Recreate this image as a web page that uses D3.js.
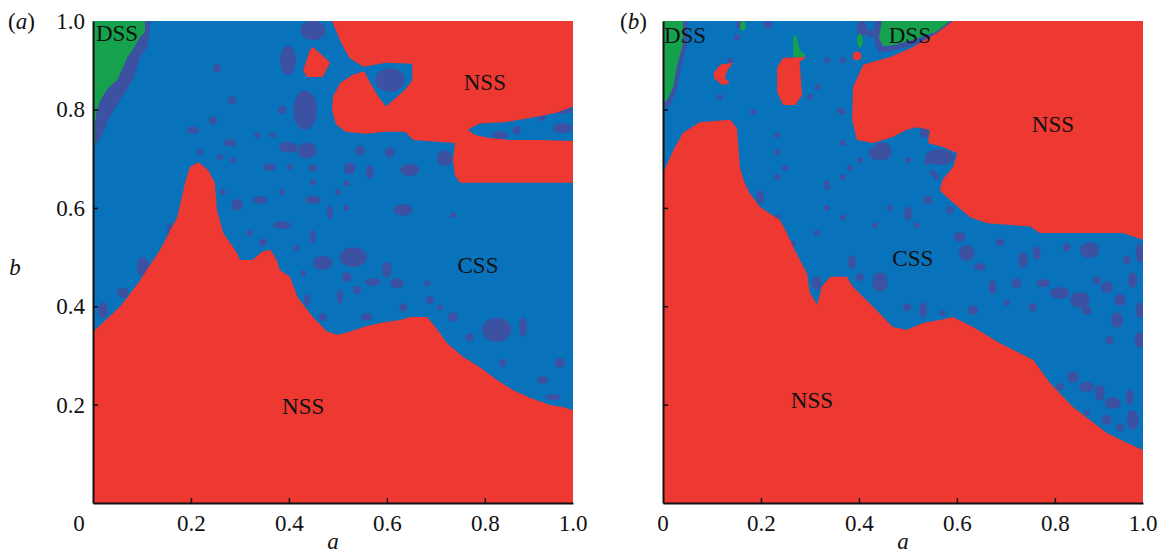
<!DOCTYPE html>
<html>
<head>
<meta charset="utf-8">
<script src="https://cdn.jsdelivr.net/npm/d3@7"></script>
<style>
  body { margin: 0; background: #fff; }
  svg text { font-family: 'Liberation Serif', 'DejaVu Serif', serif; }
</style>
</head>
<body>
<script>
const width = 1167;
const height = 556;
const serif = "'Liberation Serif', 'DejaVu Serif', serif";

// the grid stops at 0.98 on both axes, the corner labels still read 0 and 1.0
const aMax = 0.98;
const bMax = 0.98;
const tickVals = [0.2, 0.4, 0.6, 0.8];

const colors = { nss: '#ee3832', css: '#0872ba', dark: '#3d51a2', dss: '#16a24c' };

// ---- panel (a) regions, points are [a, b] ----
const aNssLow = [[0,0],[0,0.348],[0.055,0.399],[0.092,0.447],[0.137,0.515],[0.172,0.581],[0.188,0.651],[0.198,0.683],
  [0.215,0.693],[0.235,0.677],[0.249,0.651],[0.253,0.596],[0.266,0.549],[0.294,0.509],[0.300,0.494],[0.326,0.494],
  [0.345,0.511],[0.362,0.515],[0.375,0.494],[0.382,0.473],[0.402,0.460],[0.418,0.418],[0.449,0.378],[0.478,0.348],
  [0.500,0.342],[0.524,0.348],[0.552,0.358],[0.586,0.366],[0.627,0.372],[0.647,0.378],[0.682,0.378],[0.699,0.358],
  [0.723,0.325],[0.756,0.297],[0.790,0.276],[0.825,0.250],[0.858,0.229],[0.892,0.214],[0.933,0.199],[0.959,0.195],
  [0.98,0.189],[0.98,0]];
const aNssHigh = [[0.488,0.98],[0.498,0.956],[0.509,0.931],[0.524,0.905],[0.552,0.887],[0.598,0.895],[0.652,0.893],
  [0.652,0.860],[0.637,0.840],[0.598,0.806],[0.582,0.827],[0.565,0.856],[0.554,0.878],[0.529,0.870],[0.505,0.854],
  [0.490,0.827],[0.488,0.799],[0.496,0.770],[0.516,0.755],[0.556,0.751],[0.596,0.755],[0.637,0.755],[0.654,0.738],
  [0.709,0.734],[0.739,0.732],[0.735,0.698],[0.739,0.666],[0.750,0.651],[0.98,0.651],[0.98,0.736],[0.912,0.738],
  [0.852,0.738],[0.810,0.742],[0.780,0.748],[0.765,0.759],[0.790,0.772],[0.841,0.774],[0.892,0.783],[0.944,0.793],
  [0.98,0.806],[0.98,0.98]];
const aNssIsland = [[0.449,0.927],[0.478,0.901],[0.484,0.895],[0.469,0.866],[0.437,0.866],[0.429,0.880],[0.443,0.921]];
const aDssEdge = [[0,0.98],[0.117,0.98],[0.115,0.952],[0.111,0.927],[0.096,0.907],[0.081,0.860],[0.055,0.819],
  [0.034,0.785],[0.021,0.753],[0.008,0.732],[0,0.726]];
const aDss = [[0,0.98],[0.106,0.98],[0.106,0.957],[0.096,0.948],[0.081,0.921],[0.070,0.907],[0.062,0.887],[0.049,0.860],
  [0.028,0.840],[0.015,0.819],[0.008,0.799],[0.004,0.772],[0.004,0.732],[0,0.732]];
// dark patches inside CSS: [a, b, half-width, half-height]
const aDark = [[0.402,0.722,0.016,0.010],[0.280,0.732,0.012,0.008],[0.218,0.713,0.006,0.006],[0.286,0.697,0.006,0.006],
  [0.361,0.683,0.012,0.008],[0.402,0.683,0.006,0.006],[0.449,0.681,0.008,0.008],[0.524,0.681,0.012,0.012],
  [0.565,0.673,0.008,0.014],[0.647,0.677,0.020,0.012],[0.718,0.701,0.016,0.016],[0.545,0.717,0.010,0.010],
  [0.606,0.713,0.010,0.010],[0.449,0.652,0.006,0.006],[0.518,0.650,0.006,0.006],[0.265,0.632,0.006,0.006],
  [0.386,0.632,0.006,0.006],[0.500,0.632,0.006,0.006],[0.294,0.606,0.012,0.012],[0.341,0.616,0.014,0.008],
  [0.449,0.616,0.016,0.008],[0.484,0.591,0.006,0.014],[0.518,0.600,0.006,0.006],[0.633,0.596,0.020,0.012],
  [0.735,0.585,0.006,0.006],[0.157,0.555,0.006,0.014],[0.386,0.565,0.018,0.008],[0.449,0.541,0.006,0.014],
  [0.320,0.549,0.006,0.006],[0.347,0.530,0.008,0.008],[0.416,0.518,0.006,0.006],[0.102,0.480,0.012,0.020],
  [0.469,0.488,0.020,0.014],[0.531,0.500,0.028,0.020],[0.518,0.459,0.010,0.010],[0.600,0.474,0.010,0.016],
  [0.571,0.449,0.016,0.008],[0.620,0.447,0.014,0.010],[0.682,0.447,0.006,0.006],[0.429,0.467,0.006,0.006],
  [0.504,0.419,0.006,0.014],[0.539,0.433,0.008,0.008],[0.633,0.398,0.008,0.008],[0.688,0.413,0.008,0.008],
  [0.708,0.398,0.006,0.006],[0.735,0.378,0.010,0.010],[0.559,0.378,0.012,0.008],[0.469,0.378,0.008,0.008],
  [0.437,0.413,0.006,0.012],[0.061,0.427,0.012,0.010],[0.020,0.392,0.010,0.016],[0.824,0.352,0.030,0.024],
  [0.878,0.358,0.008,0.020],[0.837,0.285,0.008,0.008],[0.953,0.285,0.010,0.010],[0.918,0.250,0.012,0.008],
  [0.939,0.215,0.016,0.006],[0.769,0.337,0.008,0.008],[0.253,0.884,0.008,0.008],[0.204,0.758,0.012,0.008],
  [0.245,0.778,0.008,0.008],[0.284,0.819,0.008,0.008],[0.335,0.748,0.006,0.006],[0.367,0.748,0.006,0.006],
  [0.386,0.799,0.008,0.008],[0.396,0.724,0.016,0.010],[0.259,0.703,0.006,0.006],[0.355,0.683,0.006,0.006],
  [0.449,0.961,0.026,0.020],[0.398,0.900,0.016,0.030],[0.433,0.799,0.024,0.040],[0.606,0.860,0.030,0.024],
  [0.796,0.778,0.012,0.008],[0.916,0.785,0.008,0.008],[0.959,0.799,0.020,0.008],[0.959,0.762,0.020,0.010],
  [0.831,0.748,0.016,0.008],[0.865,0.758,0.008,0.008],[0.673,0.915,0.008,0.008],[0.545,0.965,0.008,0.008],
  [0.586,0.799,0.008,0.008],[0.437,0.717,0.020,0.016],[0.392,0.724,0.008,0.008]];
const aLabels = [
  { text: 'DSS', a: 0.049, b: 0.955 },
  { text: 'NSS', a: 0.800, b: 0.856 },
  { text: 'CSS', a: 0.786, b: 0.484 },
  { text: 'NSS', a: 0.429, b: 0.197 }
];

// ---- panel (b) regions ----
const bNssLow = [[0,0],[0,0.671],[0.021,0.717],[0.041,0.753],[0.075,0.774],[0.137,0.779],[0.151,0.762],[0.157,0.683],
  [0.164,0.657],[0.177,0.630],[0.198,0.602],[0.239,0.575],[0.253,0.549],[0.266,0.520],[0.294,0.467],[0.300,0.427],
  [0.315,0.403],[0.324,0.439],[0.341,0.460],[0.375,0.460],[0.388,0.439],[0.429,0.399],[0.469,0.358],[0.498,0.352],
  [0.531,0.366],[0.565,0.372],[0.592,0.378],[0.633,0.358],[0.688,0.325],[0.756,0.291],[0.790,0.244],[0.837,0.195],
  [0.907,0.142],[0.948,0.122],[0.98,0.108],[0.98,0]];
const bNssHigh = [[0.592,0.98],[0.560,0.956],[0.511,0.927],[0.464,0.907],[0.422,0.895],[0.409,0.891],[0.388,0.846],
  [0.386,0.779],[0.396,0.738],[0.429,0.732],[0.469,0.744],[0.498,0.759],[0.518,0.764],[0.545,0.759],[0.541,0.732],
  [0.571,0.724],[0.601,0.711],[0.592,0.683],[0.571,0.657],[0.565,0.636],[0.586,0.616],[0.627,0.581],[0.662,0.569],
  [0.750,0.562],[0.769,0.549],[0.939,0.549],[0.98,0.535],[0.98,0.98]];
const bNssCrescent = [[0.117,0.891],[0.143,0.895],[0.132,0.881],[0.126,0.864],[0.137,0.854],[0.121,0.850],[0.104,0.864],[0.104,0.876]];
const bNssOval = [[0.245,0.905],[0.294,0.907],[0.279,0.897],[0.284,0.829],[0.270,0.809],[0.245,0.809],[0.233,0.836],[0.233,0.885]];
const bNssDots = [[0.396,0.909,0.009,0.009]];
const bDssEdgeLeft = [[0,0.98],[0.049,0.98],[0.049,0.931],[0.036,0.882],[0.028,0.843],[0.015,0.809],[0,0.799]];
const bDssLeft = [[0,0.98],[0.041,0.98],[0.041,0.935],[0.028,0.887],[0.021,0.846],[0.008,0.819],[0,0.813]];
const bDssEdgeTop = [[0.431,0.98],[0.600,0.98],[0.570,0.950],[0.510,0.930],[0.470,0.920],[0.440,0.916],[0.431,0.940]];
const bDssTop = [[0.447,0.98],[0.586,0.98],[0.556,0.957],[0.509,0.942],[0.473,0.931],[0.449,0.929],[0.441,0.946]];
const bDssSliver = [[0.266,0.952],[0.273,0.948],[0.279,0.921],[0.292,0.910],[0.286,0.907],[0.266,0.907]];
const bDssDots = [[0.402,0.940,0.006,0.014],[0.163,0.970,0.006,0.010]];
const bDark = [[0.184,0.795,0.006,0.006],[0.233,0.748,0.006,0.006],[0.233,0.713,0.006,0.006],[0.249,0.681,0.006,0.006],
  [0.233,0.663,0.006,0.006],[0.198,0.622,0.008,0.014],[0.233,0.581,0.006,0.006],[0.314,0.549,0.006,0.006],
  [0.335,0.650,0.006,0.006],[0.367,0.663,0.006,0.006],[0.382,0.681,0.006,0.006],[0.367,0.732,0.006,0.006],
  [0.402,0.697,0.006,0.006],[0.367,0.795,0.006,0.006],[0.443,0.711,0.024,0.014],[0.500,0.697,0.006,0.006],
  [0.535,0.754,0.010,0.012],[0.539,0.693,0.006,0.006],[0.541,0.616,0.010,0.008],[0.559,0.663,0.006,0.006],
  [0.463,0.600,0.006,0.006],[0.500,0.589,0.008,0.014],[0.518,0.565,0.006,0.006],[0.433,0.565,0.006,0.006],
  [0.367,0.581,0.006,0.006],[0.335,0.600,0.006,0.006],[0.265,0.528,0.006,0.006],[0.386,0.490,0.008,0.014],
  [0.314,0.447,0.010,0.014],[0.402,0.459,0.008,0.008],[0.443,0.449,0.016,0.020],[0.137,0.900,0.006,0.006],
  [0.151,0.947,0.006,0.006],[0.157,0.972,0.008,0.008],[0.116,0.825,0.006,0.006],[0.214,0.972,0.008,0.008],
  [0.300,0.825,0.006,0.006],[0.316,0.846,0.006,0.006],[0.335,0.900,0.006,0.006],[0.367,0.900,0.006,0.006],
  [0.361,0.799,0.006,0.006],[0.335,0.642,0.006,0.006],[0.406,0.965,0.010,0.016],[0.422,0.955,0.008,0.008],
  [0.606,0.541,0.012,0.010],[0.620,0.508,0.016,0.016],[0.647,0.480,0.012,0.008],[0.688,0.530,0.008,0.008],
  [0.735,0.494,0.010,0.016],[0.763,0.508,0.008,0.014],[0.722,0.447,0.010,0.010],[0.673,0.439,0.008,0.014],
  [0.776,0.447,0.014,0.008],[0.810,0.427,0.020,0.012],[0.851,0.413,0.020,0.016],[0.871,0.508,0.010,0.010],
  [0.886,0.453,0.008,0.008],[0.906,0.439,0.012,0.012],[0.927,0.372,0.012,0.016],[0.959,0.453,0.010,0.016],
  [0.947,0.494,0.008,0.008],[0.973,0.508,0.008,0.020],[0.865,0.392,0.010,0.010],[0.755,0.398,0.008,0.008],
  [0.702,0.407,0.006,0.006],[0.633,0.392,0.010,0.010],[0.531,0.392,0.008,0.016],[0.498,0.398,0.008,0.008],
  [0.837,0.256,0.012,0.012],[0.865,0.236,0.016,0.010],[0.892,0.224,0.010,0.016],[0.918,0.203,0.016,0.012],
  [0.953,0.215,0.008,0.016],[0.959,0.169,0.012,0.020],[0.906,0.169,0.010,0.010],[0.933,0.154,0.008,0.008],
  [0.810,0.236,0.008,0.008],[0.865,0.183,0.006,0.006],[0.571,0.386,0.006,0.006],[0.447,0.717,0.020,0.016],
  [0.565,0.703,0.030,0.016],[0.551,0.671,0.006,0.006],[0.586,0.596,0.008,0.008],[0.824,0.520,0.008,0.008],
  [0.871,0.514,0.020,0.016],[0.933,0.413,0.012,0.012],[0.973,0.392,0.008,0.016],[0.973,0.331,0.010,0.016],
  [0.912,0.331,0.008,0.008]];
const bLabels = [
  { text: 'DSS', a: 0.045, b: 0.951 },
  { text: 'DSS', a: 0.504, b: 0.951 },
  { text: 'NSS', a: 0.796, b: 0.770 },
  { text: 'CSS', a: 0.510, b: 0.498 },
  { text: 'NSS', a: 0.304, b: 0.209 }
];

const panels = [
  { left: 93, tag: '(a)', tagX: 8, showY: true, zeroShift: -14,
    polys: [[aDssEdge, colors.dark], [aDss, colors.dss], [aNssLow, colors.nss], [aNssHigh, colors.nss], [aNssIsland, colors.nss]],
    dots: [[aDark, colors.dark]], labels: aLabels },
  { left: 663, tag: '(b)', tagX: 620, showY: false, zeroShift: 0,
    polys: [[bDssEdgeLeft, colors.dark], [bDssLeft, colors.dss], [bDssEdgeTop, colors.dark], [bDssTop, colors.dss],
            [bDssSliver, colors.dss], [bNssLow, colors.nss], [bNssHigh, colors.nss], [bNssCrescent, colors.nss], [bNssOval, colors.nss]],
    dots: [[bDark, colors.dark], [bDssDots, colors.dss], [bNssDots, colors.nss]], labels: bLabels }
];

const svg = d3.select('body').append('svg')
  .attr('width', width)
  .attr('height', height)
  .style('font-family', serif);

function serifText(sel) {
  return sel.style('font-family', serif).style('font-size', '23px').attr('fill', '#111');
}

panels.forEach((p, i) => {
  const x = d3.scaleLinear().domain([0, aMax]).range([p.left, p.left + 480]);
  const y = d3.scaleLinear().domain([0, bMax]).range([503, 21]);
  const g = svg.append('g');

  g.append('clipPath').attr('id', 'clip' + i)
    .append('rect')
    .attr('x', x(0)).attr('y', y(bMax))
    .attr('width', x(aMax) - x(0)).attr('height', y(0) - y(bMax));

  const plot = g.append('g').attr('clip-path', `url(#clip${i})`);

  // CSS background
  plot.append('rect')
    .attr('x', x(0)).attr('y', y(bMax))
    .attr('width', x(aMax) - x(0)).attr('height', y(0) - y(bMax))
    .attr('fill', colors.css);

  const line = d3.line().x(d => x(d[0])).y(d => y(d[1])).curve(d3.curveLinearClosed);

  function drawDots(arr, col) {
    plot.append('g').selectAll('ellipse')
      .data(arr)
      .enter().append('ellipse')
      .attr('cx', d => x(d[0]))
      .attr('cy', d => y(d[1]))
      .attr('rx', d => x(d[2]) - x(0))
      .attr('ry', d => y(0) - y(d[3]))
      .attr('fill', col);
  }

  // small patches first, big regions over them
  p.dots.filter(d => d[1] === colors.dark).forEach(([arr, col]) => drawDots(arr, col));
  p.polys.forEach(([pts, col]) => {
    plot.append('path').attr('d', line(pts)).attr('fill', col);
  });
  p.dots.filter(d => d[1] !== colors.dark).forEach(([arr, col]) => drawDots(arr, col));

  g.selectAll('.region')
    .data(p.labels)
    .enter().append('text')
    .attr('x', d => x(d.a))
    .attr('y', d => y(d.b))
    .attr('dy', '0.35em')
    .attr('text-anchor', 'middle')
    .call(serifText)
    .text(d => d.text);

  // axes
  const yAxis = d3.axisLeft(y).tickValues(tickVals).tickSize(-5).tickSizeOuter(0).tickPadding(8)
    .tickFormat(p.showY ? d3.format('.1f') : () => '');
  const xAxis = d3.axisBottom(x).tickValues(tickVals).tickSize(-5).tickSizeOuter(0).tickPadding(12)
    .tickFormat(d3.format('.1f'));

  const ya = g.append('g').attr('transform', `translate(${x(0)},0)`).call(yAxis);
  const xa = g.append('g').attr('transform', `translate(0,${y(0)})`).call(xAxis);
  [ya, xa].forEach(ax => {
    ax.attr('font-family', serif).attr('font-size', 23);
    ax.select('.domain').attr('stroke', '#111').attr('stroke-width', 2);
    ax.selectAll('.tick line').attr('stroke', '#111').attr('stroke-width', 1.5);
    ax.selectAll('text').call(serifText);
  });

  // corner labels
  g.append('text').attr('x', x(0) + p.zeroShift).attr('y', y(0) + 12).attr('dy', '0.71em')
    .attr('text-anchor', 'middle').call(serifText).text('0');
  g.append('text').attr('x', x(aMax)).attr('y', y(0) + 12).attr('dy', '0.71em')
    .attr('text-anchor', 'middle').call(serifText).text('1.0');
  if (p.showY) {
    g.append('text').attr('x', x(0) - 8).attr('y', y(bMax)).attr('dy', '0.35em')
      .attr('text-anchor', 'end').call(serifText).text('1.0');
    g.append('text').attr('x', 15).attr('y', y(0.48)).attr('dy', '0.35em')
      .attr('text-anchor', 'middle').call(serifText).style('font-style', 'italic').text('b');
  }

  // panel tag and axis name
  const tag = g.append('text').attr('x', p.tagX).attr('y', y(bMax)).attr('dy', '0.35em').call(serifText);
  tag.append('tspan').text('(');
  tag.append('tspan').style('font-style', 'italic').text(p.tag[1]);
  tag.append('tspan').text(')');

  g.append('text').attr('x', (x(0) + x(aMax)) / 2).attr('y', 549)
    .attr('text-anchor', 'middle').call(serifText).style('font-style', 'italic').text('a');
});
</script>
</body>
</html>
